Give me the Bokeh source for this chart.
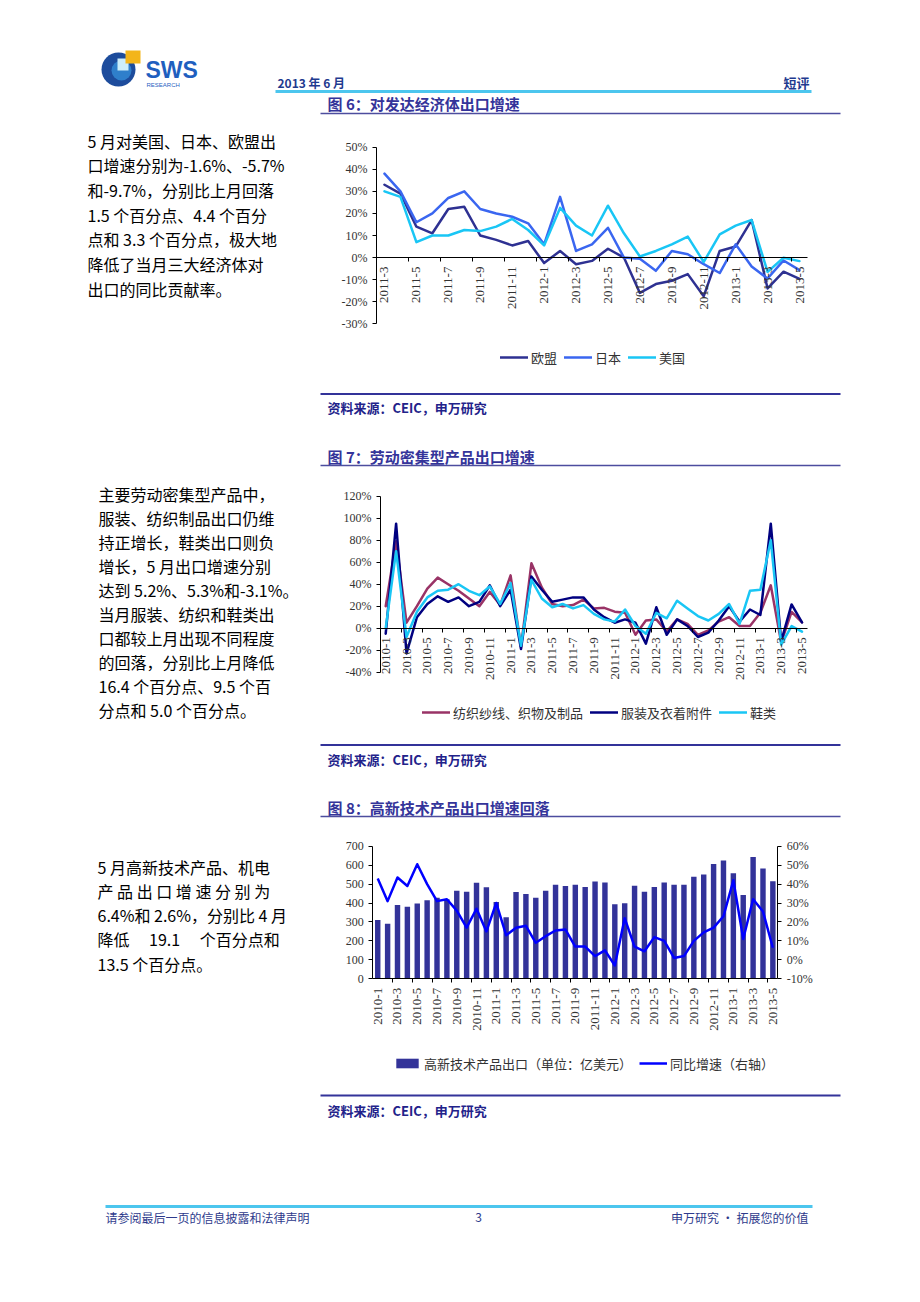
import math
from bokeh.plotting import figure
from bokeh.layouts import column
from bokeh.models import Range1d, LinearAxis, FixedTicker, Legend, LegendItem
from bokeh.core.properties import value
from bokeh.embed import file_html
from bokeh.resources import INLINE

CJK = "Noto Sans CJK SC"
SERIF = "Liberation Serif"
LATIN = "Liberation Sans"

# ---------------- Figure 6 data: exports to developed economies (yoy %) ----------------
months_fig6 = ["2011-3", "2011-4", "2011-5", "2011-6", "2011-7", "2011-8", "2011-9",
               "2011-10", "2011-11", "2011-12", "2012-1", "2012-2", "2012-3", "2012-4",
               "2012-5", "2012-6", "2012-7", "2012-8", "2012-9", "2012-10", "2012-11",
               "2012-12", "2013-1", "2013-2", "2013-3", "2013-4", "2013-5"]
eu_fig6 = [33, 29, 14, 11, 22, 23, 10, 8, 5.5, 7.5, -2.5, 3, -3, -1.5, 4, 0, -16, -12,
           -10.5, -7.5, -17.5, 3, 5, 17, -14, -6.4, -9.7]
japan_fig6 = [38, 30, 16, 20, 27, 30, 22, 20, 18.5, 15.5, 6, 27.5, 3, 6, 13.5, 0, -0.5, -6,
              3, 1.5, -3, -7, 6, -4, -9.5, -1.3, -5.7]
usa_fig6 = [30, 27.5, 7, 10, 10, 12.5, 12, 14, 17.5, 12.5, 5.5, 22.5, 14.5, 10, 23.5, 11,
            0.5, 3, 6, 9.5, -2, 10.5, 14.5, 17, -6.5, -0.1, -1.6]
names_fig6 = ["欧盟", "日本", "美国"]
yticks_fig6 = [-30, -20, -10, 0, 10, 20, 30, 40, 50]

# ---------------- Figure 7 data: labour-intensive exports (yoy %) ----------------
months_fig7 = ["2010-1", "2010-2", "2010-3", "2010-4", "2010-5", "2010-6", "2010-7", "2010-8",
               "2010-9", "2010-10", "2010-11", "2010-12", "2011-1", "2011-2", "2011-3",
               "2011-4", "2011-5", "2011-6", "2011-7", "2011-8", "2011-9", "2011-10",
               "2011-11", "2011-12", "2012-1", "2012-2", "2012-3", "2012-4", "2012-5",
               "2012-6", "2012-7", "2012-8", "2012-9", "2012-10", "2012-11", "2012-12",
               "2013-1", "2013-2", "2013-3", "2013-4", "2013-5"]
textile_fig7 = [20, 79, 5, 20, 36, 46, 40, 34, 27, 20, 33, 21, 48, -17, 59, 37, 22, 20, 21, 26,
                18, 18.5, 15, 14, -6, 7, 8, -3, 8, 4, -6, -2, 6, 10, 2, 2, 14, 39, -13, 14.8, 5.3]
apparel_fig7 = [-5, 95, -23, 10, 22, 29, 24, 28, 20, 24, 39, 20, 35, -19, 47, 35, 24, 26, 28, 28,
                17, 10, 5, 8, 5, -14, 19, -6, 8, 2, -8, -4, 7, 20, 6, 17, 12, 95, -12, 21.6, 5.2]
shoes_fig7 = [0, 70, -8, 15, 28, 34, 35, 40, 34, 30, 38, 22, 41, -16, 44, 27, 19, 22, 18, 21,
              13, 8, 6, 17, 2, -5, 14, 9, 25, 18, 11, 7, 13, 22, 4, 34, 35, 80, -15, 1.9, -3.1]
names_fig7 = ["纺织纱线、织物及制品", "服装及衣着附件", "鞋类"]
yticks_fig7 = [-40, -20, 0, 20, 40, 60, 80, 100, 120]

# ---------------- Figure 8 data: high-tech exports ----------------
months_fig8 = ["2010-1", "2010-2", "2010-3", "2010-4", "2010-5", "2010-6", "2010-7", "2010-8",
               "2010-9", "2010-10", "2010-11", "2010-12", "2011-1", "2011-2", "2011-3",
               "2011-4", "2011-5", "2011-6", "2011-7", "2011-8", "2011-9", "2011-10",
               "2011-11", "2011-12", "2012-1", "2012-2", "2012-3", "2012-4", "2012-5",
               "2012-6", "2012-7", "2012-8", "2012-9", "2012-10", "2012-11", "2012-12",
               "2013-1", "2013-2", "2013-3", "2013-4", "2013-5"]
hitech_export_fig8 = [310, 290, 390, 380, 398, 415, 428, 420, 465, 460, 507, 483, 405, 325, 458,
                      448, 428, 465, 497, 490, 497, 484, 514, 508, 393, 399, 491, 460, 484, 508,
                      497, 497, 539, 551, 606, 624, 557, 442, 643, 582, 515]
hitech_yoy_fig8 = [43, 31, 43.5, 39, 50.5, 40, 31, 32, 26, 17, 27, 15, 30, 13, 17, 18, 9, 12.5,
                   15.5, 16, 7, 7, 2, 5, -3, 22, 7, 4.5, 12, 10, 1, 2, 10, 14.5, 17, 23, 42, 11,
                   32, 25.5, 6.4]
names_fig8 = ["高新技术产品出口（单位：亿美元）", "同比增速（右轴）"]
yticks_fig8_left = [0, 100, 200, 300, 400, 500, 600, 700]
yticks_fig8_right = [-10, 0, 10, 20, 30, 40, 50, 60]

# ---------------- page texts ----------------
text_fig6 = ["5 月对美国、日本、欧盟出", "口增速分别为-1.6%、-5.7%", "和-9.7%，分别比上月回落",
             "1.5 个百分点、4.4 个百分", "点和 3.3 个百分点，极大地", "降低了当月三大经济体对",
             "出口的同比贡献率。"]
text_fig7 = ["主要劳动密集型产品中，", "服装、纺织制品出口仍维", "持正增长，鞋类出口则负",
             "增长，5 月出口增速分别", "达到 5.2%、5.3%和-3.1%。", "当月服装、纺织和鞋类出",
             "口都较上月出现不同程度", "的回落，分别比上月降低", "16.4 个百分点、9.5 个百",
             "分点和 5.0 个百分点。"]
text_fig8 = ["5 月高新技术产品、机电", "产\u00a0品\u00a0出\u00a0口\u00a0增\u00a0速\u00a0分\u00a0别\u00a0为",
             "6.4%和 2.6%，分别比 4 月", "降低\u3000\u00a019.1\u00a0\u3000个百分点和", "13.5 个百分点。"]
title_fig6 = "图 6：对发达经济体出口增速"
title_fig7 = "图 7：劳动密集型产品出口增速"
title_fig8 = "图 8：高新技术产品出口增速回落"
source_text = "资料来源：CEIC，申万研究"

W = 920
NAVY = "#333399"
TITLE_C = "#34349a"
SRC_C = "#22228a"
HDR_C = "#1f3a8f"
CYAN_RULE = "#4cc6ee"
RN = dict(x_range_name="page", y_range_name="page")


def base(p):
    p.outline_line_color = None
    p.background_fill_color = "white"
    p.border_fill_color = "white"
    return p


def canvas(y0, h):
    p = figure(width=W, height=h, x_range=Range1d(0, W), y_range=Range1d(y0 + h, y0),
               x_axis_type=None, y_axis_type=None, output_backend="svg",
               toolbar_location=None, min_border=0)
    p.extra_x_ranges = {"page": Range1d(0, W)}
    p.extra_y_ranges = {"page": Range1d(y0 + h, y0)}
    return base(p)


def put_text(p, x, y, s, size, color="#000000", font=CJK, bold=False, align="left"):
    p.text(x=[x], y=[y], text=[s], text_font=value(font), text_font_size=f"{size}px",
           text_font_style="bold" if bold else "normal", text_color=color,
           text_align=align, text_baseline="middle", **RN)


def rule(p, x1, x2, y, color, width):
    p.segment(x0=[x1], y0=[y], x1=[x2], y1=[y], line_color=color, line_width=width, **RN)


def paragraph(p, x, y, step, lines):
    for k, line in enumerate(lines):
        put_text(p, x, y + step * k, line, 16, "#000000")


def style_axis(ax, size):
    ax.axis_line_color = "#000000"
    ax.axis_line_width = 1
    ax.major_tick_line_color = "#000000"
    ax.minor_tick_line_color = "#000000"
    ax.major_label_text_font = SERIF
    ax.major_label_text_font_size = f"{size}px"
    ax.major_label_text_color = "#333333"


def category_axis(ax, months):
    xs = list(range(len(months)))
    ax.ticker = FixedTicker(ticks=xs[::2], minor_ticks=[i + 1.5 for i in xs[:-1:2]])
    ax.major_label_overrides = {i: months[i] for i in xs[::2]}
    ax.major_label_orientation = math.pi / 2
    ax.major_tick_in = 0
    ax.major_tick_out = 0
    ax.minor_tick_in = 0
    ax.minor_tick_out = 4
    ax.major_label_standoff = 5
    ax.bounds = (-0.5, len(months) - 0.5)
    style_axis(ax, 13)


def value_axis(ax, ticks, suffix):
    ax.ticker = FixedTicker(ticks=ticks)
    ax.major_label_overrides = {t: f"{t}{suffix}" for t in ticks}
    ax.major_tick_in = 0
    ax.major_tick_out = 4
    ax.minor_tick_line_color = None
    ax.major_label_standoff = 5
    ax.bounds = (ticks[0], ticks[-1])
    style_axis(ax, 12)


def fit_range(lo, hi, px_lo, px_hi, px_total):
    # value lo drawn at pixel px_lo, value hi at px_hi (pixels from the start of the canvas)
    s = (px_hi - px_lo) / (hi - lo)
    start = lo - px_lo / s
    return Range1d(start, start + px_total / s)


def y_fit(lo, hi, y0, h, top, bottom):
    # page rows: value hi at page y=top, value lo at page y=bottom; canvas spans y0..y0+h
    s = (bottom - top) / (hi - lo)
    return Range1d(lo - (y0 + h - bottom) / s, hi + (top - y0) / s)


def chart_canvas(y0, h, n, ylo, yhi, box):
    left, right, top, bottom = box
    p = figure(width=W, height=h,
               x_range=fit_range(-0.5, n - 0.5, left, right, W),
               y_range=y_fit(ylo, yhi, y0, h, top, bottom),
               output_backend="svg", toolbar_location=None, min_border=0)
    p.extra_x_ranges = {"page": Range1d(0, W)}
    p.extra_y_ranges = {"page": Range1d(y0 + h, y0)}
    p.xgrid.visible = False
    p.ygrid.visible = False
    p.xaxis[0].fixed_location = 0
    p.yaxis[0].fixed_location = -0.5
    return base(p)


def add_legend(p, items, x_left, y_center, y0, h):
    lg = Legend(items=items, orientation="horizontal",
                location=(x_left, (y0 + h) - y_center - 9.5),
                margin=0, padding=0, spacing=7, label_standoff=3,
                glyph_width=28, glyph_height=12,
                border_line_color=None, background_fill_alpha=0,
                label_text_font=CJK, label_text_font_size="13px",
                label_text_color="#333333")
    p.add_layout(lg)


def line_chart(y0, h, months, series, names, colors, yticks, box, legend_x, legend_y):
    n = len(months)
    xs = list(range(n))
    p = chart_canvas(y0, h, n, yticks[0], yticks[-1], box)
    category_axis(p.xaxis[0], months)
    value_axis(p.yaxis[0], yticks, "%")
    items = []
    for vals, name, col in zip(series, names, colors):
        r = p.line(xs, vals, line_color=col, line_width=2.5, line_join="round", line_cap="round")
        items.append(LegendItem(label=name, renderers=[r]))
    add_legend(p, items, legend_x, legend_y, y0, h)
    return p


# ---------------- header band ----------------
hdr = canvas(0, 120)
hdr.circle(x=[118], y=[69], radius=17, fill_color="#1d4c9c", line_color=None, **RN)
hdr.circle(x=[121], y=[70], radius=10, fill_color="#2f7fcb", line_color=None, **RN)
hdr.quad(left=[117], right=[128], top=[58], bottom=[70], fill_color="#cdeefa", line_color=None, **RN)
hdr.quad(left=[125], right=[140], top=[50], bottom=[63], fill_color="#f3b51a", line_color=None, **RN)
put_text(hdr, 145, 69, "SWS", 23, "#1f5fbf", font=LATIN, bold=True)
put_text(hdr, 146, 84, "RESEARCH", 6, "#1f5fbf", font=LATIN)
put_text(hdr, 277, 82, "2013 年 6 月", 12, HDR_C, bold=True)
put_text(hdr, 809, 82, "短评", 13, HDR_C, bold=True, align="right")
rule(hdr, 275, 811, 91, CYAN_RULE, 3)
put_text(hdr, 327, 103, title_fig6, 15, TITLE_C, bold=True)
rule(hdr, 320, 840, 113, "#4d4d9e", 1.5)

# ---------------- figure 6 band ----------------
p6 = line_chart(120, 272, months_fig6, [eu_fig6, japan_fig6, usa_fig6], names_fig6,
                ["#2e3192", "#3a66f0", "#19c6f5"], yticks_fig6,
                (376, 807, 146.7, 323.3), 500, 357)
paragraph(p6, 87, 140, 24.7, text_fig6)

b6 = canvas(392, 78)
rule(b6, 320, 840, 393.5, NAVY, 2)
put_text(b6, 327, 407, source_text, 13, SRC_C, bold=True)
put_text(b6, 327, 456, title_fig7, 15, TITLE_C, bold=True)
rule(b6, 320, 840, 465, "#4d4d9e", 1.5)

# ---------------- figure 7 band ----------------
p7 = line_chart(470, 272, months_fig7, [textile_fig7, apparel_fig7, shoes_fig7], names_fig7,
                ["#993366", "#000080", "#19c6f5"], yticks_fig7,
                (380, 806.7, 495.7, 671.7), 422, 712)
paragraph(p7, 98, 493, 24.1, text_fig7)

b7 = canvas(742, 78)
rule(b7, 320, 840, 744.5, NAVY, 2)
put_text(b7, 327, 759, source_text, 13, SRC_C, bold=True)
put_text(b7, 327, 807, title_fig8, 15, TITLE_C, bold=True)
rule(b7, 320, 840, 816, "#4d4d9e", 1.5)

# ---------------- figure 8 band ----------------
n8 = len(months_fig8)
x8 = list(range(n8))
box8 = (372.3, 777.3, 845.7, 978.3)
p8 = chart_canvas(820, 271, n8, yticks_fig8_left[0], yticks_fig8_left[-1], box8)
p8.extra_y_ranges["pct"] = y_fit(yticks_fig8_right[0], yticks_fig8_right[-1], 820, 271,
                                 box8[2], box8[3])
category_axis(p8.xaxis[0], months_fig8)
value_axis(p8.yaxis[0], yticks_fig8_left, "")
ax_r = LinearAxis(y_range_name="pct")
value_axis(ax_r, yticks_fig8_right, "%")
ax_r.fixed_location = n8 - 0.5
p8.add_layout(ax_r, "right")
bars = p8.vbar(x=x8, top=hitech_export_fig8, width=0.55, fill_color=NAVY, line_color=None)
yoy = p8.line(x8, hitech_yoy_fig8, y_range_name="pct", line_color="#0000ff", line_width=2.5,
              line_join="round")
add_legend(p8, [LegendItem(label=names_fig8[0], renderers=[bars]),
                LegendItem(label=names_fig8[1], renderers=[yoy])], 393, 1063, 820, 271)
paragraph(p8, 97, 866, 24.25, text_fig8)

b8 = canvas(1091, 210)
rule(b8, 320, 840, 1095, NAVY, 2)
put_text(b8, 327, 1110, source_text, 13, SRC_C, bold=True)
rule(b8, 105, 812, 1206, CYAN_RULE, 3)
put_text(b8, 105, 1217, "请参阅最后一页的信息披露和法律声明", 12, "#2e3a8c")
put_text(b8, 478, 1217, "3", 12, "#2e3a8c", align="center")
put_text(b8, 808, 1217, "申万研究 · 拓展您的价值", 12, "#2e3a8c", align="right")

page = column(hdr, p6, b6, p7, b7, p8, b8)

with open("out.html", "w") as f:
    f.write(file_html(page, INLINE, title="申万研究"))
